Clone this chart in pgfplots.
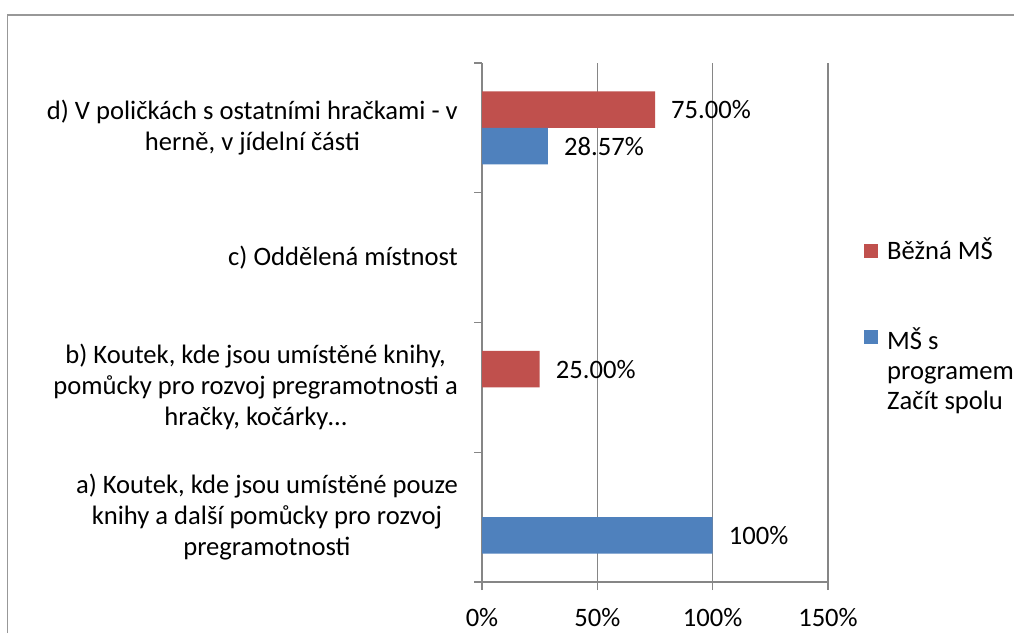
\documentclass[border=0pt]{standalone}
\usepackage{fontspec}
\setmainfont{Carlito}
\usepackage{pgfplots}
\pgfplotsset{compat=1.18}
\definecolor{cred}{HTML}{C0504D}
\definecolor{cblue}{HTML}{4F81BD}
\definecolor{cgrid}{HTML}{868686}
\newcommand{\cf}{\fontsize{26.6}{31}\selectfont}
\newcommand{\lf}{\fontsize{26.6}{30}\selectfont}
\begin{document}
\cf
\begin{tikzpicture}[x=1pt,y=1pt]
\useasboundingbox (0,0) rectangle (1014,633);
\fill[white] (0,0) rectangle (1014,633);
\draw[color=cgrid!85, line width=1.2pt] (7.5,0) -- (7.5,618) -- (1014,618);
\begin{axis}[
  at={(482pt,51pt)}, anchor=south west,
  scale only axis, width=346pt, height=519pt,
  xbar, bar width=36.5pt,
  xmin=0, xmax=150, ymin=-0.5, ymax=3.5,
  axis x line*=bottom, axis y line*=left,
  x axis line style={-}, y axis line style={-},
  axis line style={cgrid, line width=1.3pt},
  xtick={0,50,100,150}, xticklabels={0\%,50\%,100\%,150\%},
  ytick={-0.5,0.5,1.5,2.5,3.5}, yticklabels={},
  extra y ticks={0,1,2,3},
  extra y tick labels={{a) Koutek, kde jsou umístěné pouze\\knihy a další pomůcky pro rozvoj\\pregramotnosti},{b) Koutek, kde jsou umístěné knihy,\\pomůcky pro rozvoj pregramotnosti a\\hračky, kočárky…},{c) Oddělená místnost},{d) V poličkách s ostatními hračkami - v\\herně, v jídelní části}},
  extra y tick style={major tick length=0pt},
  tick align=outside, major tick length=8pt,
  tick style={cgrid, line width=1.3pt},
  xmajorgrids, grid style={cgrid, line width=1.3pt},
  yticklabel style={align=center, inner sep=0pt, xshift=-24pt, font=\cf},
  xticklabel style={inner sep=0pt, yshift=-18pt, font=\cf},
  point meta=explicit symbolic,
  nodes near coords,
  nodes near coords style={anchor=west, inner sep=0pt, xshift=16pt, text=black, font=\cf},
  legend style={draw=none, fill=none, at={(1.104,0.726)}, anchor=north west,
    font=\lf, row sep=30pt, column sep=7pt,
    cells={align=left}, inner sep=0pt},
  legend cell align=left,
]
\addplot[fill=cred, draw=none, bar shift=18.25pt,
  legend image code/.code={\path (0pt,-45pt) (14pt,45pt); \fill[cred] (0pt,-8pt) rectangle (14pt,6pt);}]
  coordinates {(25,1) [25.00\%] (75,3) [75.00\%]};
\addlegendentry{Běžná MŠ}
\addplot[fill=cblue, draw=none, bar shift=-18.25pt,
  legend image code/.code={\path (0pt,-45pt) (14pt,45pt); \fill[cblue] (0pt,26pt) rectangle (14pt,40pt);}]
  coordinates {(100,0) [100\%] (28.57,3) [28.57\%]};
\addlegendentry{MŠ s\\programem\\Začít spolu}
\end{axis}
\end{tikzpicture}
\end{document}
